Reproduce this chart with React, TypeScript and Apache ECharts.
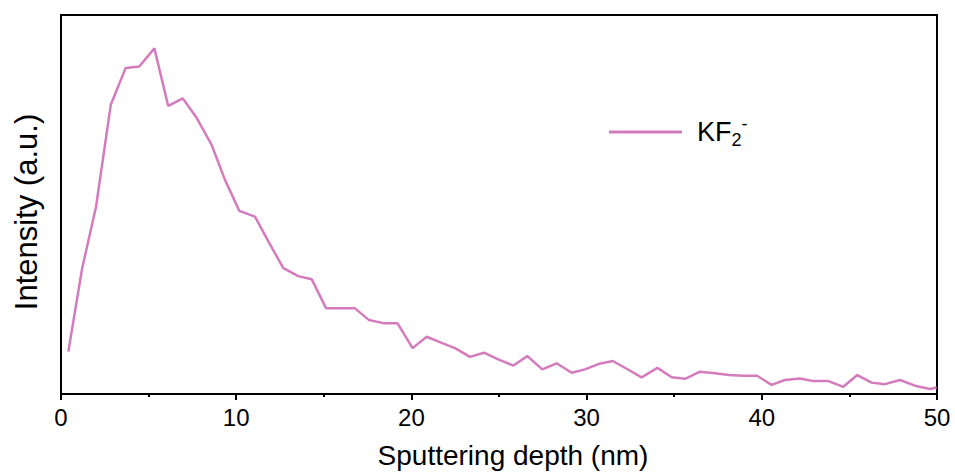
import React, { useEffect, useRef } from "react";
import * as echarts from "echarts";

// Sputtering depth (nm)
const depth = [
  0.42, 1.2, 2.0, 2.84, 3.69, 4.47, 5.33, 6.12, 6.95, 7.75,
  8.6, 9.36, 10.18, 11.07, 11.89, 12.69, 13.54, 14.31, 15.13, 15.95,
  16.78, 17.58, 18.4, 19.2, 20.07, 20.87, 21.73, 22.49, 23.34, 24.14,
  25.02, 25.82, 26.62, 27.47, 28.29, 29.15, 29.91, 30.67, 31.49, 32.31,
  33.14, 34.04, 34.86, 35.62, 36.47, 37.33, 38.13, 38.93, 39.73, 40.56,
  41.32, 42.18, 42.94, 43.8, 44.65, 45.45, 46.27, 47.03, 47.89, 48.74,
  49.6, 49.98,
];

// KF2- intensity (a.u.)
const kf2Intensity = [
  11.2, 33.0, 49.4, 76.3, 86.0, 86.4, 91.2, 76.0, 78.0, 72.8,
  65.7, 56.5, 48.3, 46.8, 39.8, 33.2, 31.1, 30.3, 22.6, 22.6,
  22.6, 19.5, 18.7, 18.7, 12.1, 15.1, 13.5, 12.1, 9.8, 10.9,
  9.0, 7.5, 10.0, 6.5, 8.1, 5.6, 6.5, 7.9, 8.7, 6.6,
  4.4, 6.9, 4.4, 4.0, 5.9, 5.5, 5.0, 4.8, 4.8, 2.4,
  3.7, 4.1, 3.4, 3.4, 1.9, 5.0, 3.0, 2.6, 3.7, 2.2,
  1.3, 1.7,
];

const xTicks = { min: 0, max: 50, interval: 10 };
const seriesName = "KF2-";
const xTitle = "Sputtering depth (nm)";
const yTitle = "Intensity (a.u.)";

export default function App() {
  const ref = useRef<HTMLDivElement>(null);
  useEffect(() => {
    if (!ref.current) return;
    const chart = echarts.init(ref.current, null, { renderer: "svg" });
    const font = "Liberation Sans, Arial, sans-serif";
    const color = "#D47BBE";
    chart.setOption({
      animation: false,
      backgroundColor: "#fff",
      textStyle: { fontFamily: font },
      grid: {
        left: 61,
        right: 18,
        top: 15,
        bottom: 79,
        show: true,
        borderColor: "#000",
        borderWidth: 2,
      },
      legend: {
        left: 604,
        top: 110,
        icon: "rect",
        itemWidth: 73,
        itemHeight: 3,
        itemStyle: { color },
        formatter: () => "{a|KF}{sub|2}{sup|-}",
        textStyle: {
          color: "#000",
          fontFamily: font,
          rich: {
            a: { fontSize: 27, lineHeight: 34, padding: [0, 0, 0, 10], color: "#000", fontFamily: font },
            sub: { fontSize: 18, lineHeight: 20, verticalAlign: "bottom", color: "#000", fontFamily: font },
            sup: { fontSize: 18, lineHeight: 22, verticalAlign: "top", color: "#000", fontFamily: font },
          },
        },
        data: [seriesName],
      },
      xAxis: {
        type: "value",
        min: xTicks.min,
        max: xTicks.max,
        interval: xTicks.interval,
        axisLine: { show: true, onZero: false, lineStyle: { color: "#000", width: 2 } },
        axisTick: { show: true, inside: false, length: 6, lineStyle: { color: "#000", width: 2 } },
        minorTick: { show: true, splitNumber: 2, length: 3, lineStyle: { color: "#000", width: 2 } },
        axisLabel: { color: "#000", fontSize: 24, margin: 11, fontFamily: font },
        splitLine: { show: false },
      },
      yAxis: {
        type: "value",
        min: 0,
        max: 100,
        axisLine: { show: false },
        axisTick: { show: false },
        axisLabel: { show: false },
        splitLine: { show: false },
      },
      graphic: [
        {
          type: "text",
          x: 513,
          y: 455,
          style: {
            text: xTitle,
            fontSize: 28,
            fontFamily: font,
            fill: "#000",
            textAlign: "center",
            textVerticalAlign: "middle",
          },
        },
        {
          type: "text",
          x: 26,
          y: 212,
          rotation: Math.PI / 2,
          style: {
            text: yTitle,
            fontSize: 31,
            fontFamily: font,
            fill: "#000",
            textAlign: "center",
            textVerticalAlign: "middle",
          },
        },
      ],
      series: [
        {
          name: seriesName,
          type: "line",
          data: depth.map((d, i) => [d, kf2Intensity[i]]),
          symbol: "none",
          lineStyle: { color, width: 2.5 },
          itemStyle: { color },
        },
      ],
    });
    return () => chart.dispose();
  }, []);
  return <div ref={ref} style={{ width: 955, height: 473, position: "absolute", left: 0, top: 0 }} />;
}
